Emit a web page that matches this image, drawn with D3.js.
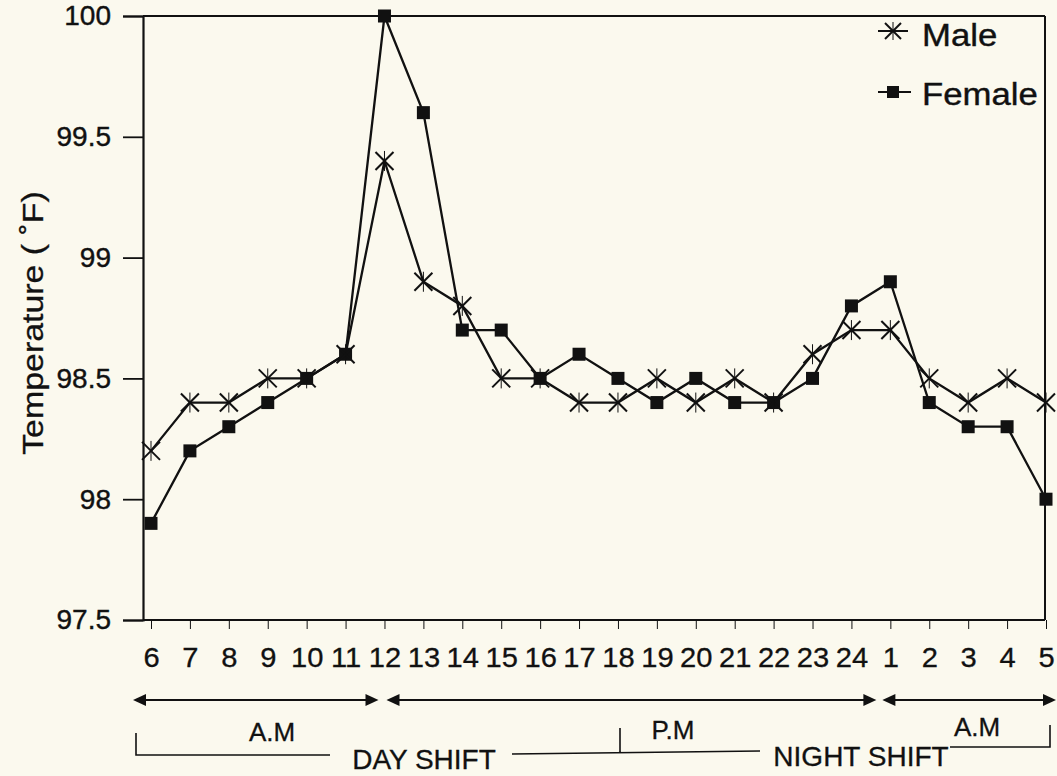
<!DOCTYPE html>
<html>
<head>
<meta charset="utf-8">
<script src="https://cdn.jsdelivr.net/npm/d3@7/dist/d3.min.js"></script>
<style>
  html, body { margin: 0; padding: 0; background: #fbf9ee; }
  svg { display: block; }
  text { font-family: "Liberation Sans", Arial, Helvetica, sans-serif; fill: #111; }
</style>
</head>
<body>
<svg id="chart" width="1057" height="776"></svg>
<script>
// ---- data ----
const hours = ["6","7","8","9","10","11","12","13","14","15","16","17","18","19","20","21","22","23","24","1","2","3","4","5"];
const male = [98.2,98.4,98.4,98.5,98.5,98.6,99.4,98.9,98.8,98.5,98.5,98.4,98.4,98.5,98.4,98.5,98.4,98.6,98.7,98.7,98.5,98.4,98.5,98.4];
const female = [97.9,98.2,98.3,98.4,98.5,98.6,100.0,99.6,98.7,98.7,98.5,98.6,98.5,98.4,98.5,98.4,98.4,98.5,98.8,98.9,98.4,98.3,98.3,98.0];
const yTicks = [97.5, 98, 98.5, 99, 99.5, 100];
const seriesNames = ["Male", "Female"];
const yTitle = "Temperature ( \u02DAF)";

// ---- layout ----
const svg = d3.select("#chart");
const ink = "#111";
const pLeft = 143, pRight = 1045, pTop = 16, pBottom = 620;

const x = d3.scalePoint().domain(hours).range([151, 1046]);
const y = d3.scaleLinear().domain([97.5, 100]).range([pBottom, pTop]);

function stretch(sel, f) {
  sel.each(function() {
    const w = this.getComputedTextLength();
    d3.select(this).attr("textLength", w * f).attr("lengthAdjust", "spacingAndGlyphs");
  });
}

// frame
svg.append("line").attr("x1", pLeft).attr("x2", pRight).attr("y1", pTop).attr("y2", pTop)
  .attr("stroke", ink).attr("stroke-width", 2);
svg.append("line").attr("x1", pRight).attr("x2", pRight).attr("y1", pTop).attr("y2", pBottom)
  .attr("stroke", ink).attr("stroke-width", 2);

// y axis
const yAxis = d3.axisLeft(y).tickValues(yTicks).tickSize(20).tickPadding(12)
  .tickFormat(d => String(d));
const gy = svg.append("g").attr("transform", `translate(${pLeft},0)`).call(yAxis);
gy.select(".domain").attr("stroke", ink).attr("stroke-width", 2.2);
gy.selectAll(".tick line").attr("stroke", ink).attr("stroke-width", 1.8);
gy.selectAll(".tick text").attr("font-size", 28).attr("fill", ink)
  .style("font-family", '"Liberation Sans", Arial, sans-serif')
  .attr("stroke", ink).attr("stroke-width", 0.4);

// x axis
const xAxis = d3.axisBottom(x).tickSize(9).tickPadding(18).tickSizeOuter(0);
const gx = svg.append("g").attr("transform", `translate(0,${pBottom})`).call(xAxis);
gx.select(".domain").attr("d", `M${pLeft},0H${pRight}`).attr("stroke", ink).attr("stroke-width", 2.2);
gx.selectAll(".tick line").attr("stroke", ink).attr("stroke-width", 1);
gx.selectAll(".tick text").attr("font-size", 28).attr("fill", ink)
  .style("font-family", '"Liberation Sans", Arial, sans-serif')
  .attr("stroke", ink).attr("stroke-width", 0.3).call(stretch, 1.04);

// y title
svg.append("text")
  .attr("transform", "translate(43,323) rotate(-90)")
  .attr("text-anchor", "middle")
  .attr("font-size", 30)
  .attr("stroke", ink).attr("stroke-width", 0.3)
  .text(yTitle).call(stretch, 1.13);

// lines
const line = d3.line().x((d, i) => x(hours[i])).y(d => y(d));
svg.append("path").datum(female).attr("d", line).attr("fill", "none")
  .attr("stroke", ink).attr("stroke-width", 2.3);
svg.append("path").datum(male).attr("d", line).attr("fill", "none")
  .attr("stroke", ink).attr("stroke-width", 2.3);

// markers
function star(g, s) {
  g.append("line").attr("x1", -s).attr("y1", -s).attr("x2", s).attr("y2", s).attr("stroke-width", 2);
  g.append("line").attr("x1", -s).attr("y1", s).attr("x2", s).attr("y2", -s).attr("stroke-width", 2);
  g.append("line").attr("x1", 0).attr("y1", -s - 1).attr("x2", 0).attr("y2", s + 1).attr("stroke-width", 1);
  g.selectAll("line").attr("stroke", ink);
}
svg.append("g").selectAll("rect").data(female).join("rect")
  .attr("x", (d, i) => x(hours[i]) - 6.5).attr("y", d => y(d) - 6.5)
  .attr("width", 13).attr("height", 13).attr("fill", ink);
svg.append("g").selectAll("g").data(male).join("g")
  .attr("transform", (d, i) => `translate(${x(hours[i])},${y(d)})`)
  .each(function() { star(d3.select(this), 9); });

// legend
const lg = svg.append("g");
const lm = lg.append("g").attr("transform", "translate(893,31)");
lm.append("line").attr("x1", -15).attr("x2", 15).attr("stroke", ink).attr("stroke-width", 2);
star(lm, 8);
lg.append("text").attr("x", 922).attr("y", 46).attr("font-size", 31)
  .attr("stroke", ink).attr("stroke-width", 0.4).text(seriesNames[0]).call(stretch, 1.12);
const lf = lg.append("g").attr("transform", "translate(893,92)");
lf.append("line").attr("x1", -15).attr("x2", 18).attr("stroke", ink).attr("stroke-width", 2);
lf.append("rect").attr("x", -6).attr("y", -6).attr("width", 12).attr("height", 12).attr("fill", ink);
lg.append("text").attr("x", 922).attr("y", 105).attr("font-size", 31)
  .attr("stroke", ink).attr("stroke-width", 0.4).text(seriesNames[1]).call(stretch, 1.12);

// period arrows
const ay = 700;
const periods = [
  { a: x("6") - 18, b: x("12") - 6 },
  { a: x("12") + 2, b: x("1") - 14 },
  { a: x("1") - 8, b: x("5") + 10 }
];
function arrowHead(px, dir) {
  svg.append("path")
    .attr("d", `M${px},${ay} l${-dir * 13},-6 l0,12 Z`).attr("fill", ink);
}
periods.forEach(p => {
  svg.append("line").attr("x1", p.a + 6).attr("x2", p.b - 6).attr("y1", ay).attr("y2", ay)
    .attr("stroke", ink).attr("stroke-width", 2);
  arrowHead(p.a, -1);
  arrowHead(p.b, 1);
});

// period labels
const lab = (t, cx, by, fs) => svg.append("text").attr("x", cx).attr("y", by)
  .attr("text-anchor", "middle").attr("font-size", fs)
  .attr("stroke", ink).attr("stroke-width", 0.3).text(t);
lab("A.M", 272, 741, 26);
lab("P.M", 673, 739, 26);
lab("A.M", 977, 736, 26);

// shift brackets
const br = d3.path();
br.moveTo(136, 733); br.lineTo(136, 755); br.lineTo(330, 755);
br.moveTo(512, 754); br.lineTo(760, 751);
br.moveTo(620, 728); br.lineTo(620, 752);
br.moveTo(950, 747); br.lineTo(1050, 747); br.lineTo(1050, 725);
svg.append("path").attr("d", br.toString()).attr("fill", "none").attr("stroke", ink).attr("stroke-width", 1.6);
lab("DAY SHIFT", 424, 769, 28);
lab("NIGHT SHIFT", 861, 766, 28);
</script>
</body>
</html>
